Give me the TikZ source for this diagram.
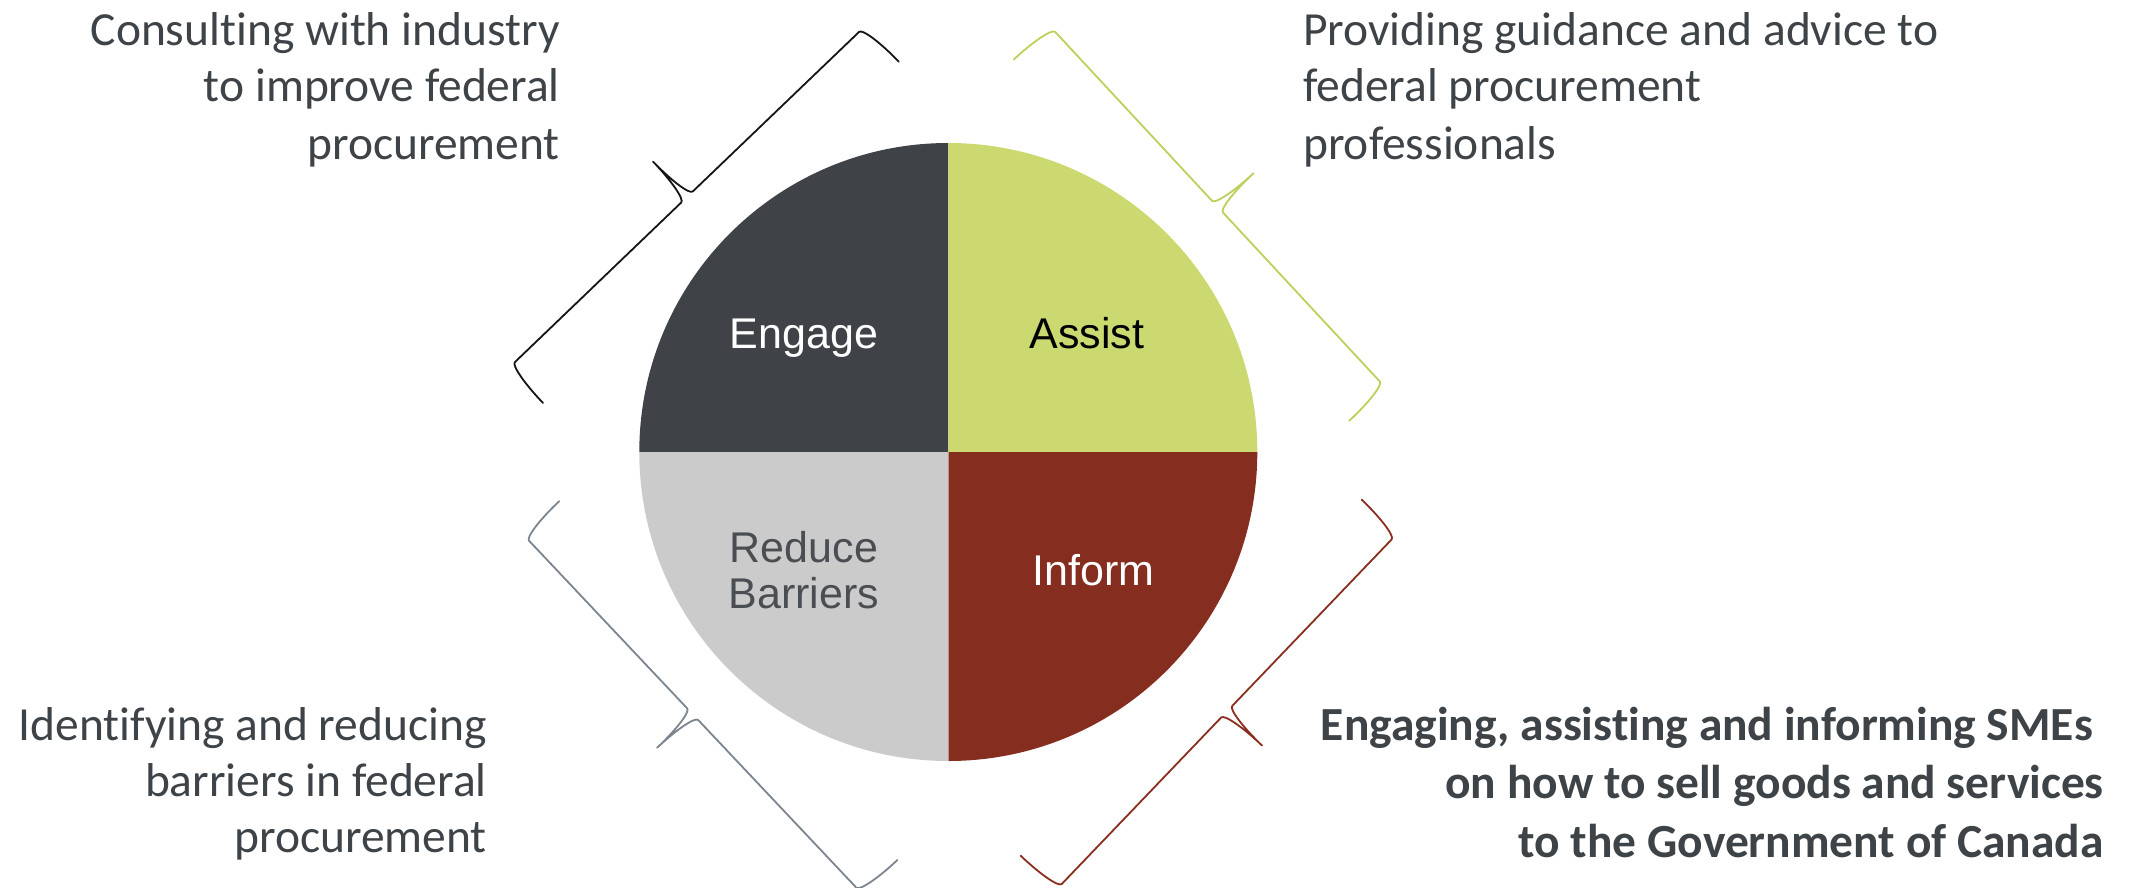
\documentclass[tikz,border=0pt]{standalone}
\usepackage{fontspec}
\setmainfont{Carlito}[Ligatures={NoCommon}]
\newfontfamily\arialf{Liberation Sans}
\definecolor{engagec}{HTML}{3F4347}
\definecolor{assistc}{HTML}{CCD970}
\definecolor{reducec}{HTML}{CBCBCB}
\definecolor{informc}{HTML}{852E20}
\definecolor{txtgray}{HTML}{3E4348}
\definecolor{reducetxt}{HTML}{4A4E53}
\definecolor{bracek}{HTML}{151515}
\definecolor{braceg}{HTML}{BECF5C}
\definecolor{braces}{HTML}{7C8590}
\definecolor{bracer}{HTML}{8A2E1E}
\tikzset{
  quadlabel/.style={inner sep=0pt, font=\arialf\fontsize{43}{46}\selectfont},
  outertext/.style={inner sep=0pt, text=txtgray, font=\fontsize{47.5}{57}\selectfont},
  outerbold/.style={inner sep=0pt, text=txtgray, font=\bfseries\fontsize{47.5}{58}\selectfont},
  curlybrace/.pic={
    \draw[pic actions, line width=1.8pt, line join=round, line cap=round]
      (246.5,-49) .. controls (246.5,-22) and (242.9,0) .. (238.5,0)
      -- (8,0) .. controls (3.6,0) and (0,22) .. (0,49)
      .. controls (0,22) and (-3.6,0) .. (-8,0)
      -- (-238.5,0) .. controls (-242.9,0) and (-246.5,-22) .. (-246.5,-49);
  }
}
\begin{document}
\begin{tikzpicture}[x=1pt,y=-1pt]
\useasboundingbox[fill=white] (0,0) rectangle (2136,888);

% pie quadrants
\coordinate (c) at (948.3,452);
\fill[engagec] (c) -- (639.3,452) arc[start angle=180, end angle=270, radius=309] -- cycle;
\fill[assistc] (c) -- (948.3,143) arc[start angle=270, end angle=360, radius=309] -- cycle;
\fill[informc] (c) -- (1257.3,452) arc[start angle=0, end angle=90, radius=309] -- cycle;
\fill[reducec] (c) -- (948.3,761) arc[start angle=90, end angle=180, radius=309] -- cycle;

% quadrant labels
\node[quadlabel, text=white, anchor=base] (engage) at (804,348) {Engage};
\node[quadlabel, text=black, anchor=base] (assist) at (1086.7,348) {Assist};
\node[quadlabel, text=reducetxt, align=center, anchor=center] (reduce) at (804,570) {Reduce\\Barriers};
\node[quadlabel, text=white, anchor=base] (inform) at (1093.8,585) {Inform};

% braces
\begin{scope}[shift={(687,197)}, x={(0.7216pt,0.6923pt)}, y={(-0.6923pt,0.7216pt)}]
  \pic[draw=bracek] (braceTL) {curlybrace};
\end{scope}
\begin{scope}[shift={(1217.5,206.7)}, x={(0.6805pt,-0.7328pt)}, y={(0.7328pt,0.6805pt)}]
  \pic[draw=braceg] (braceTR) {curlybrace};
\end{scope}
\begin{scope}[shift={(692.7,714.2)}, x={(0.6863pt,-0.7275pt)}, y={(-0.7275pt,-0.6863pt)}]
  \pic[draw=braces] (braceBL) {curlybrace};
\end{scope}
\begin{scope}[shift={(1226.7,711.7)}, x={(-0.6915pt,-0.7223pt)}, y={(0.7223pt,-0.6915pt)}]
  \pic[draw=bracer] (braceBR) {curlybrace};
\end{scope}

% outer texts
\node[outertext, anchor=base east] (tl1) at (560,46) {Consulting with industry};
\node[outertext, anchor=base east] (tl2) at (560,102) {to improve federal};
\node[outertext, anchor=base east] (tl3) at (560,159) {procurement};

\node[outertext, anchor=base west] (tr1) at (1303,46) {Providing guidance and advice to};
\node[outertext, anchor=base west] (tr2) at (1303,102) {federal procurement};
\node[outertext, anchor=base west] (tr3) at (1303,159) {professionals};

\node[outertext, anchor=base east] (bl1) at (487,740) {Identifying and reducing};
\node[outertext, anchor=base east] (bl2) at (487,796) {barriers in federal};
\node[outertext, anchor=base east] (bl3) at (487,852) {procurement};

\node[outerbold, anchor=base east] (br1) at (2093,740) {Engaging, assisting and informing SMEs};
\node[outerbold, anchor=base east] (br2) at (2104,798) {on how to sell goods and services};
\node[outerbold, anchor=base east] (br3) at (2104,857) {to the Government of Canada};
\end{tikzpicture}
\end{document}
